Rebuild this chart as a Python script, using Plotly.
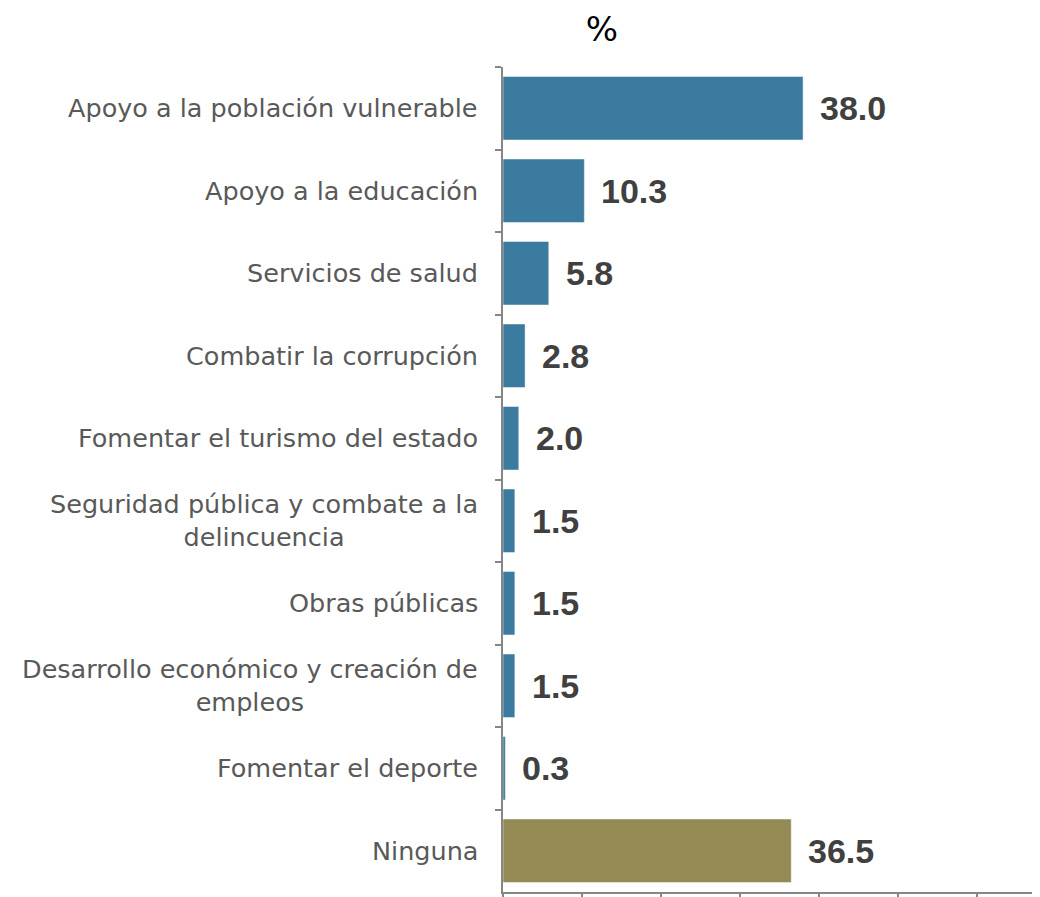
import plotly.graph_objects as go

categorias = [
    "Apoyo a la población vulnerable",
    "Apoyo a la educación",
    "Servicios de salud",
    "Combatir la corrupción",
    "Fomentar el turismo del estado",
    "Seguridad pública y combate a la<br>delincuencia",
    "Obras públicas",
    "Desarrollo económico y creación de<br>empleos",
    "Fomentar el deporte",
    "Ninguna",
]
porcentajes = [38.0, 10.3, 5.8, 2.8, 2.0, 1.5, 1.5, 1.5, 0.3, 36.5]
colores = ["#3B7B9F"] * 9 + ["#948A54"]

AXIS_GRAY = "#868686"

# the page body has an 8px margin, so the figure is 8px smaller than the window
W, H = 1032, 889

fig = go.Figure()
fig.add_trace(
    go.Bar(
        x=porcentajes,
        y=categorias,
        orientation="h",
        marker={"color": colores, "line": {"width": 0.8, "color": "rgba(255,255,255,0.6)"}},
        hoverinfo="skip",
        showlegend=False,
    )
)

annotations = []
for cat, val in zip(categorias, porcentajes):
    # value labels to the right of each bar
    annotations.append(
        dict(
            x=val,
            y=cat,
            xref="x",
            yref="y",
            text=f"{val:.1f}",
            showarrow=False,
            xanchor="left",
            xshift=15,
            font={"family": "Liberation Sans, Arial, sans-serif", "size": 34, "color": "#404040", "weight": "bold"},
        )
    )
    # category labels, centered lines like the original
    annotations.append(
        dict(
            x=0,
            y=cat,
            xref="paper",
            yref="y",
            text=cat,
            showarrow=False,
            xanchor="right",
            align="center",
            xshift=-23,
            font={"family": "DejaVu Sans, sans-serif", "size": 25.5, "color": "#595959"},
        )
    )

fig.update_layout(
    width=W,
    height=H,
    margin={"l": 495, "r": 0, "t": 59, "b": 3},
    plot_bgcolor="white",
    paper_bgcolor="white",
    bargap=0.23,
    title={
        "text": "%",
        "x": 594 / W,
        "xanchor": "center",
        "xref": "container",
        "y": 1 - 21 / H,
        "yanchor": "middle",
        "yref": "container",
        "font": {"family": "DejaVu Sans, sans-serif", "size": 34, "color": "#000000"},
    },
    annotations=annotations,
)
fig.update_xaxes(
    range=[0, 68],
    showgrid=False,
    zeroline=False,
    showline=True,
    linecolor=AXIS_GRAY,
    linewidth=2,
    ticks="outside",
    ticklen=5,
    tickwidth=1.5,
    tickcolor=AXIS_GRAY,
    tick0=0,
    dtick=10,
    showticklabels=False,
)
fig.update_yaxes(
    categoryorder="array",
    categoryarray=categorias,
    autorange="reversed",
    showgrid=False,
    zeroline=False,
    showline=True,
    linecolor=AXIS_GRAY,
    linewidth=2,
    ticks="outside",
    ticklen=6,
    tickwidth=1.5,
    tickcolor=AXIS_GRAY,
    tickson="boundaries",
    showticklabels=False,
)

fig.write_html("out.html")
